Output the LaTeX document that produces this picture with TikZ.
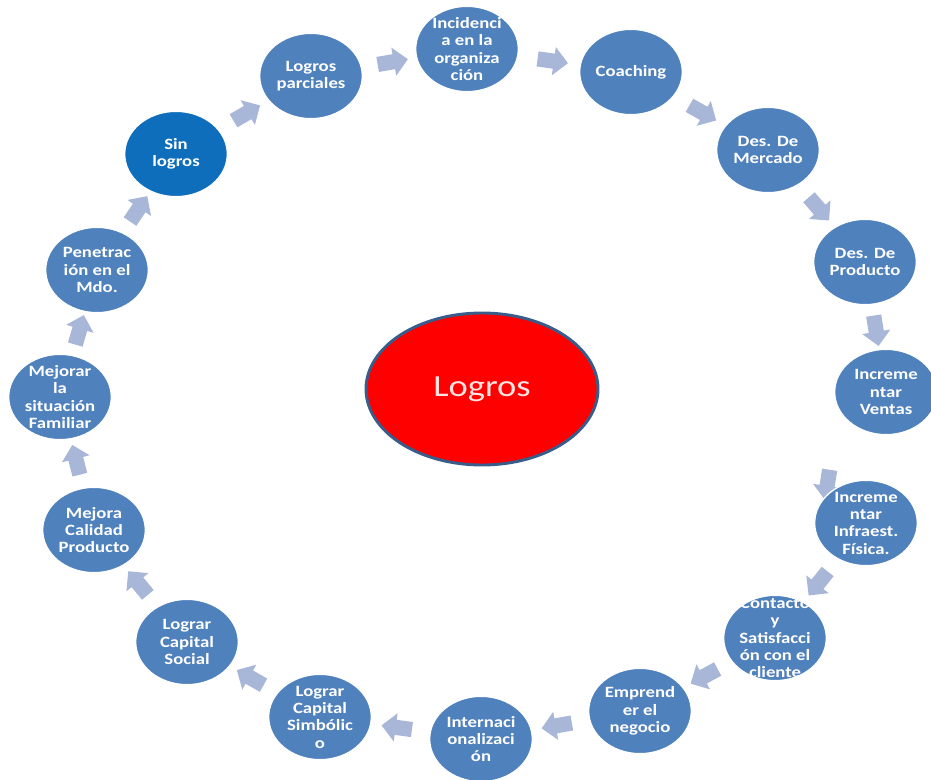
\documentclass[tikz,border=0pt]{standalone}
\usepackage{fontspec}
\setmainfont{Carlito}
\newfontfamily\anchofont[FakeStretch=1.19]{Carlito}
\usetikzlibrary{shapes.geometric,shapes.arrows,backgrounds}

\definecolor{azulEtapa}{RGB}{79,129,189}
\definecolor{azulSin}{RGB}{14,110,188}
\definecolor{grisFlecha}{RGB}{168,182,216}
\definecolor{bordeLogro}{RGB}{56,93,138}
\definecolor{textoLogro}{RGB}{253,228,228}

\tikzset{
  etapa/.style={ellipse, fill=azulEtapa, draw=white, line width=1pt,
    minimum width=77pt, minimum height=64pt, inner sep=0pt},
  rotulo/.style={text=white, align=center, inner sep=0pt,
    font=\anchofont\bfseries\fontsize{11.8}{13}\selectfont},
  flecha/.style={single arrow, fill=grisFlecha, draw=none, sloped,
    allow upside down, minimum height=23pt, inner xsep=0pt, inner ysep=5.5pt,
    single arrow head extend=5pt},
}

\begin{document}
\begin{tikzpicture}[x=0.75pt, y=-0.75pt]
    \useasboundingbox (0,0) rectangle (931,780);

    % Etapas del ciclo
    \node[etapa, fill=azulSin, label={[rotulo]center:Sin\\logros}] (sin) at (176,154) {};
    \node[etapa, label={[rotulo]center:Logros\\parciales}] (parciales) at (311,76) {};
    \node[etapa, label={[rotulo]center:Incidenci\\a en la\\organiza\\ción}] (incidencia) at (467,49) {};
    \node[etapa, label={[rotulo]center:Coaching}] (coaching) at (631,72) {};
    \node[etapa, label={[rotulo]center:Des. De\\Mercado}] (mercado) at (768,150) {};
    \node[etapa, label={[rotulo]center:Des. De\\Producto}] (producto) at (865,262) {};
    \node[etapa, label={[rotulo]center:Increme\\ntar\\Ventas}] (ventas) at (886,392) {};
    \node[etapa, label={[rotulo]center:Increme\\ntar\\Infraest.\\Física.}] (infra) at (866,523) {};
    \node[etapa, label={[rotulo]center:Contacto\\y\\Satisfacci\\ón con el\\cliente}] (contacto) at (775,638) {};
    \node[etapa, label={[rotulo]center:Emprend\\er el\\negocio}] (emprender) at (640,711) {};
    \node[etapa, label={[rotulo]center:Internaci\\onalizaci\\ón}] (inter) at (481,739) {};
    \node[etapa, label={[rotulo]center:Lograr\\Capital\\Simbólic\\o}] (simbolico) at (320,717) {};
    \node[etapa, label={[rotulo]center:Lograr\\Capital\\Social}] (social) at (187,642) {};
    \node[etapa, label={[rotulo]center:Mejora\\Calidad\\Producto}] (calidad) at (94,530) {};
    \node[etapa, label={[rotulo]center:Mejorar\\la\\situación\\Familiar}] (familiar) at (60,397) {};
    \node[etapa, label={[rotulo]center:Penetrac\\ión en el\\Mdo.}] (penetracion) at (97,270) {};

    % Flechas entre etapas (detras de las elipses)
    \begin{scope}[on background layer]
    \path (sin) -- node[flecha] (f1) {} (parciales);
    \path (parciales) -- node[flecha] (f2) {} (incidencia);
    \path (incidencia) -- node[flecha] (f3) {} (coaching);
    \path (coaching) -- node[flecha] (f4) {} (mercado);
    \path (mercado) -- node[flecha] (f5) {} (producto);
    \path (producto) -- node[flecha] (f6) {} (ventas);
    \path (ventas) -- node[flecha, xshift=23pt, yshift=-33pt] (f7) {} (infra);
    \path (infra) -- node[flecha] (f8) {} (contacto);
    \path (contacto) -- node[flecha] (f9) {} (emprender);
    \path (emprender) -- node[flecha] (f10) {} (inter);
    \path (inter) -- node[flecha] (f11) {} (simbolico);
    \path (simbolico) -- node[flecha] (f12) {} (social);
    \path (social) -- node[flecha] (f13) {} (calidad);
    \path (calidad) -- node[flecha] (f14) {} (familiar);
    \path (familiar) -- node[flecha] (f15) {} (penetracion);
    \path (penetracion) -- node[flecha] (f16) {} (sin);
    \end{scope}

    % Logro central
    \node[ellipse, fill=red, draw=bordeLogro, line width=2.2pt,
      minimum width=174pt, minimum height=114pt, text=textoLogro,
      font=\anchofont\fontsize{23}{27}\selectfont] (logros) at (482,389) {Logros};
\end{tikzpicture}
\end{document}
